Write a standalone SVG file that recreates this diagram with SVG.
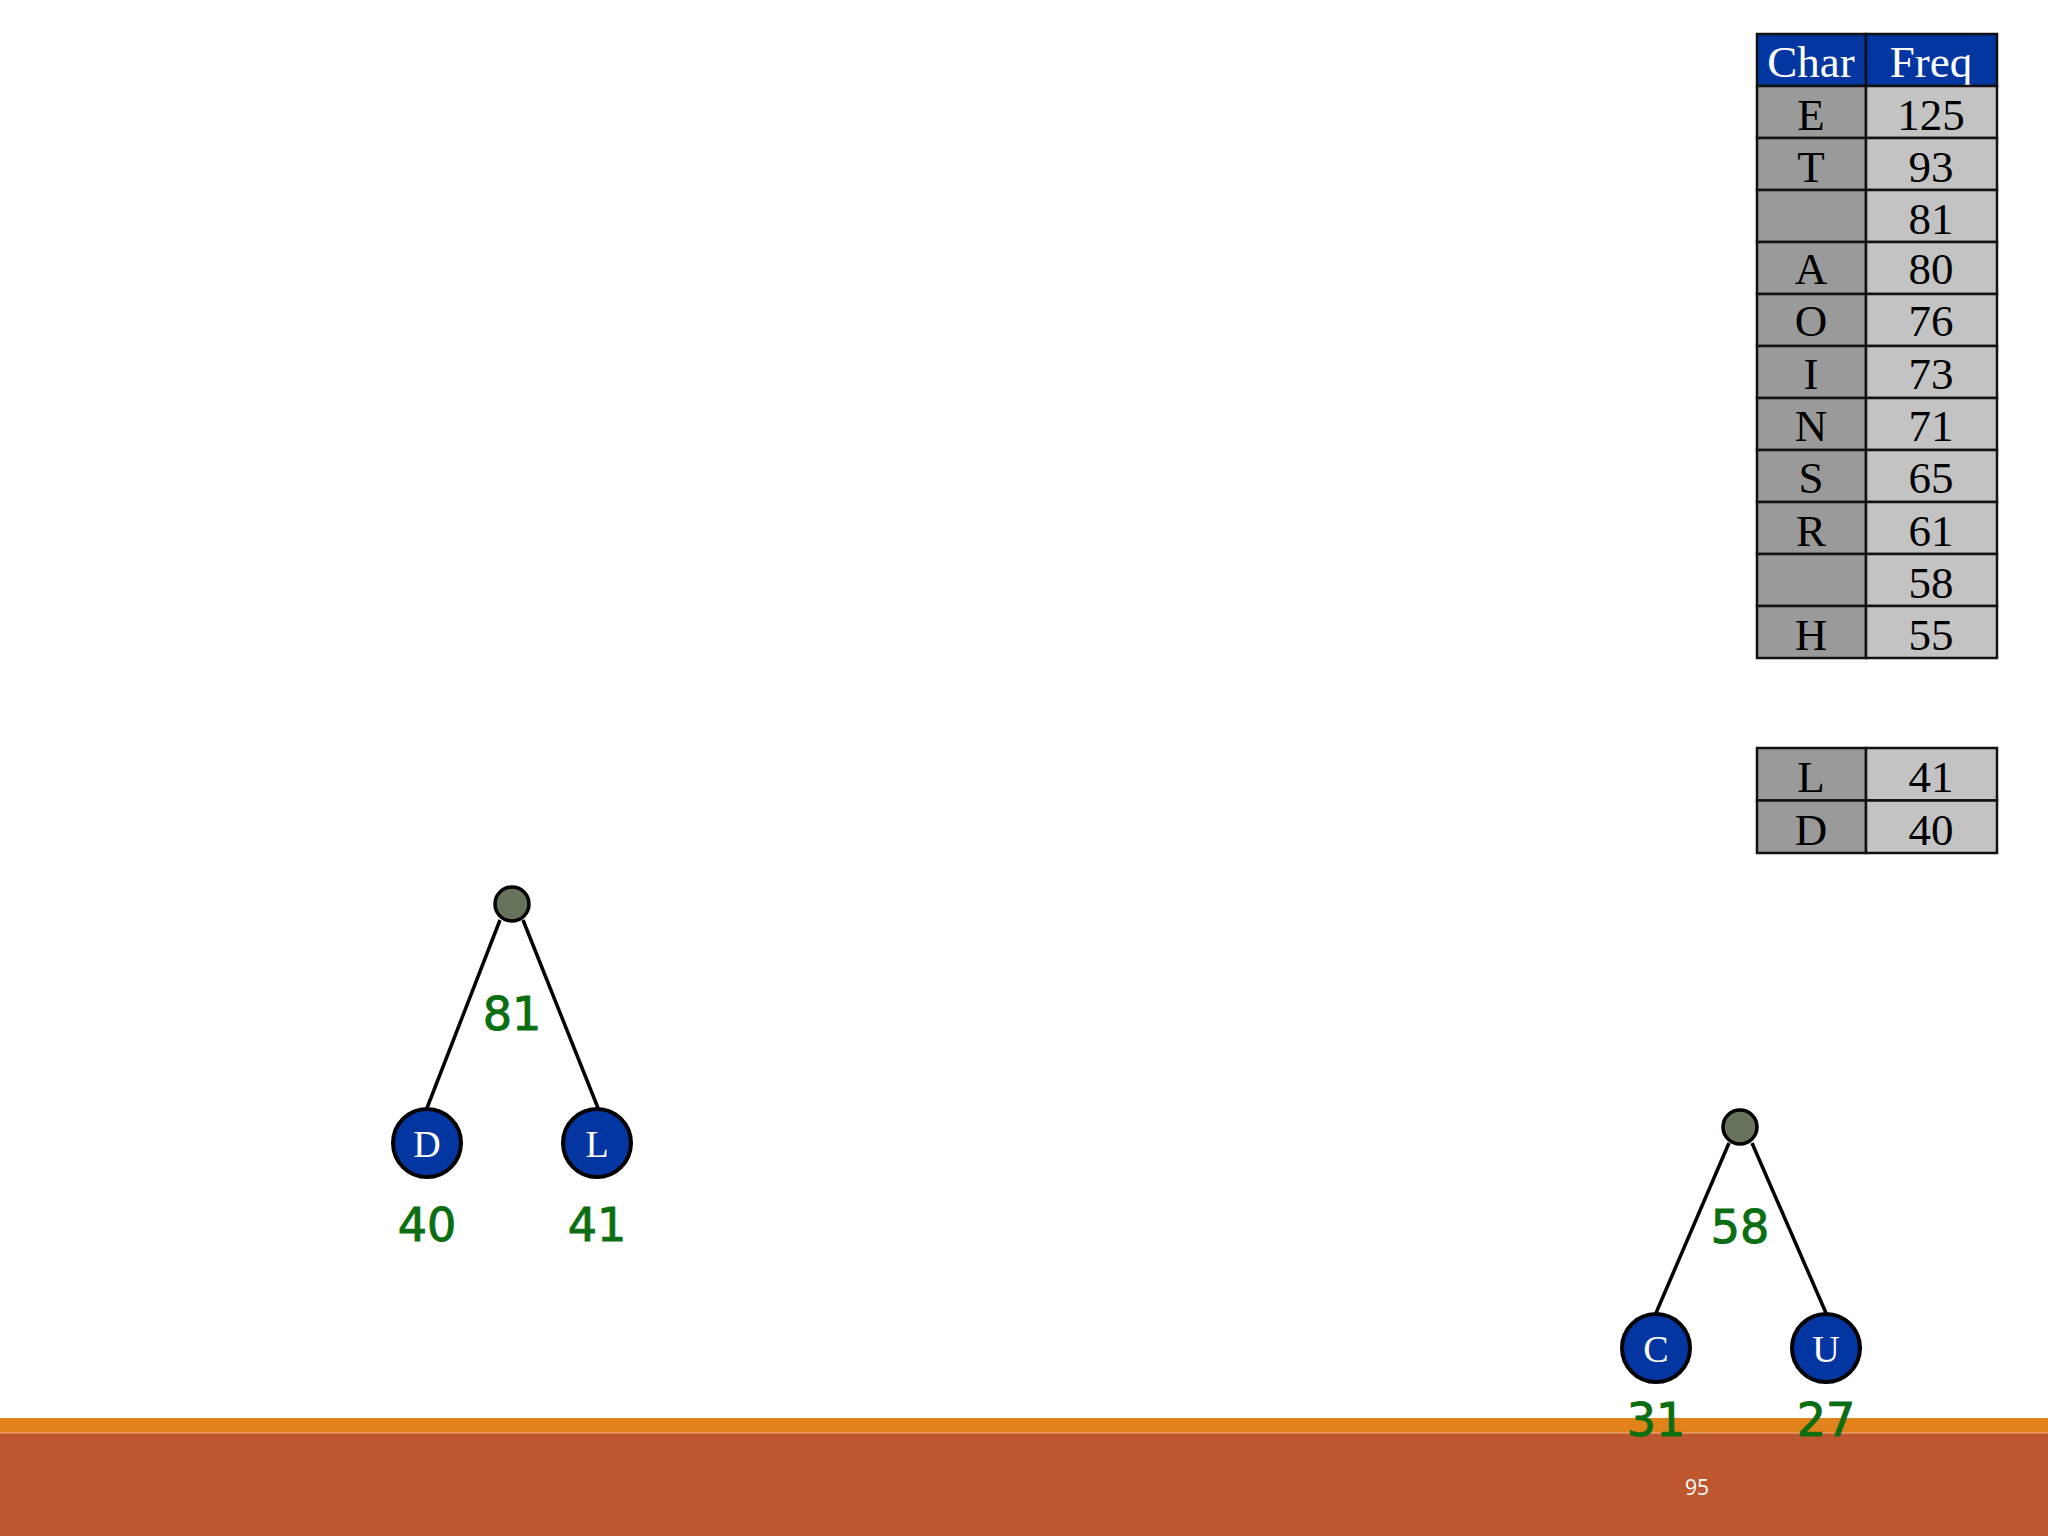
<svg xmlns="http://www.w3.org/2000/svg" width="2048" height="1536" viewBox="0 0 2048 1536">
<style>
.hdr{fill:#0336a0;stroke:#111;stroke-width:2.5}
.cc{fill:#9a9a9a;stroke:#111;stroke-width:2.5}
.fc{fill:#c3c3c3;stroke:#111;stroke-width:2.5}
.tt{font-family:"Liberation Serif",serif;font-size:45px;text-anchor:middle;fill:#000}
.th{font-family:"Liberation Serif",serif;font-size:45px;text-anchor:middle;fill:#fff}
.leaf{fill:#0336a0;stroke:#000;stroke-width:4}
.root{fill:#67735a;stroke:#000;stroke-width:3.5}
.lt{font-family:"Liberation Serif",serif;font-size:38px;text-anchor:middle;fill:#fff}
.num{font-family:"DejaVu Sans","Open Sans",sans-serif;font-size:46px;text-anchor:middle;fill:#0b6e12;stroke:#0b6e12;stroke-width:1}
.edge{stroke:#000;stroke-width:3.5;fill:none}
</style>
<rect width="2048" height="1536" fill="#fff"/>
<g id="table">
<rect class="hdr" x="1757" y="34" width="109" height="52"/>
<rect class="hdr" x="1866" y="34" width="131" height="52"/>
<text class="th" x="1811" y="77">Char</text>
<text class="th" x="1931" y="77">Freq</text>
<rect class="cc" x="1757" y="86" width="109" height="52"/><rect class="fc" x="1866" y="86" width="131" height="52"/>
<text class="tt" x="1811" y="130">E</text><text class="tt" x="1931" y="130">125</text>
<rect class="cc" x="1757" y="138" width="109" height="52"/><rect class="fc" x="1866" y="138" width="131" height="52"/>
<text class="tt" x="1811" y="182">T</text><text class="tt" x="1931" y="182">93</text>
<rect class="cc" x="1757" y="190" width="109" height="52"/><rect class="fc" x="1866" y="190" width="131" height="52"/>
<text class="tt" x="1931" y="234">81</text>
<rect class="cc" x="1757" y="242" width="109" height="52"/><rect class="fc" x="1866" y="242" width="131" height="52"/>
<text class="tt" x="1811" y="284">A</text><text class="tt" x="1931" y="284">80</text>
<rect class="cc" x="1757" y="294" width="109" height="52"/><rect class="fc" x="1866" y="294" width="131" height="52"/>
<text class="tt" x="1811" y="336">O</text><text class="tt" x="1931" y="336">76</text>
<rect class="cc" x="1757" y="346" width="109" height="52"/><rect class="fc" x="1866" y="346" width="131" height="52"/>
<text class="tt" x="1811" y="389">I</text><text class="tt" x="1931" y="389">73</text>
<rect class="cc" x="1757" y="398" width="109" height="52"/><rect class="fc" x="1866" y="398" width="131" height="52"/>
<text class="tt" x="1811" y="441">N</text><text class="tt" x="1931" y="441">71</text>
<rect class="cc" x="1757" y="450" width="109" height="52"/><rect class="fc" x="1866" y="450" width="131" height="52"/>
<text class="tt" x="1811" y="493">S</text><text class="tt" x="1931" y="493">65</text>
<rect class="cc" x="1757" y="502" width="109" height="52"/><rect class="fc" x="1866" y="502" width="131" height="52"/>
<text class="tt" x="1811" y="546">R</text><text class="tt" x="1931" y="546">61</text>
<rect class="cc" x="1757" y="554" width="109" height="52"/><rect class="fc" x="1866" y="554" width="131" height="52"/>
<text class="tt" x="1931" y="598">58</text>
<rect class="cc" x="1757" y="606" width="109" height="52"/><rect class="fc" x="1866" y="606" width="131" height="52"/>
<text class="tt" x="1811" y="650">H</text><text class="tt" x="1931" y="650">55</text>
</g>
<g id="table2">
<rect class="cc" x="1757" y="748" width="109" height="52.5"/><rect class="fc" x="1866" y="748" width="131" height="52.5"/>
<text class="tt" x="1811" y="792">L</text><text class="tt" x="1931" y="792">41</text>
<rect class="cc" x="1757" y="800.5" width="109" height="52.5"/><rect class="fc" x="1866" y="800.5" width="131" height="52.5"/>
<text class="tt" x="1811" y="845">D</text><text class="tt" x="1931" y="845">40</text>
</g>
<g id="footer">
<rect x="0" y="1418" width="2048" height="15" fill="#e2821b"/>
<rect x="0" y="1433" width="2048" height="103" fill="#be5730"/>
<line x1="0" y1="1433" x2="2048" y2="1433" stroke="#f0b080" stroke-width="1"/>
<text x="1697" y="1495" font-family="Open Sans, sans-serif" font-size="21" fill="#fff" text-anchor="middle">95</text>
</g>
<g id="connectors">
<line class="edge" x1="500" y1="920" x2="427" y2="1108"/>
<line class="edge" x1="523" y1="920" x2="598" y2="1108"/>
<line class="edge" x1="1729" y1="1143" x2="1656" y2="1313"/>
<line class="edge" x1="1752" y1="1143" x2="1826" y2="1313"/>
</g>
<g id="node81">
<circle class="root" cx="512" cy="904" r="17"/>
<text class="num" x="512" y="1030">81</text>
</g>
<g id="nodeD">
<circle class="leaf" cx="427" cy="1143" r="34"/>
<text class="lt" x="427" y="1157">D</text>
<text class="num" x="427" y="1241">40</text>
</g>
<g id="nodeL">
<circle class="leaf" cx="597" cy="1143" r="34"/>
<text class="lt" x="597" y="1157">L</text>
<text class="num" x="597" y="1241">41</text>
</g>
<g id="node58">
<circle class="root" cx="1740" cy="1127" r="17"/>
<text class="num" x="1740" y="1243">58</text>
</g>
<g id="nodeC">
<circle class="leaf" cx="1656" cy="1348" r="34"/>
<text class="lt" x="1656" y="1362">C</text>
<text class="num" x="1656" y="1436">31</text>
</g>
<g id="nodeU">
<circle class="leaf" cx="1826" cy="1348" r="34"/>
<text class="lt" x="1826" y="1362">U</text>
<text class="num" x="1826" y="1436">27</text>
</g>
</svg>
